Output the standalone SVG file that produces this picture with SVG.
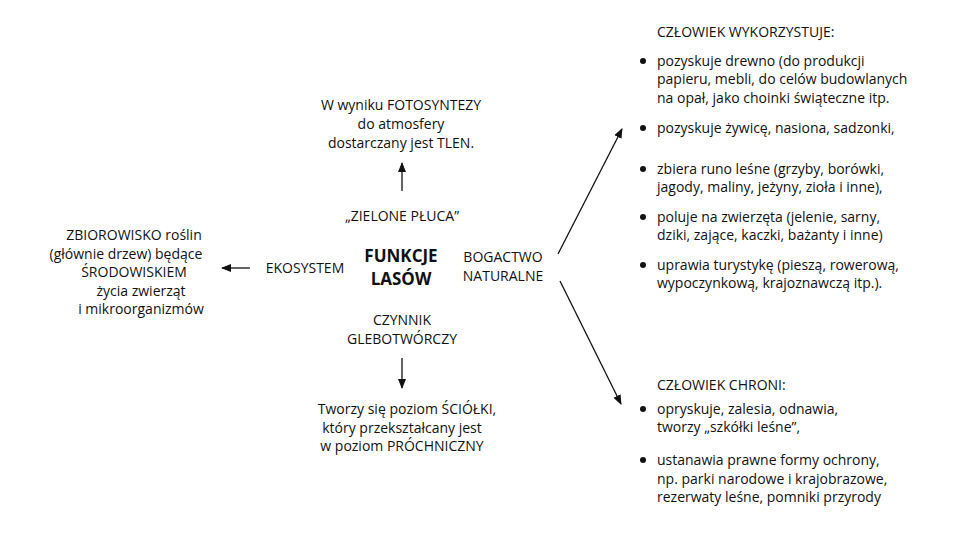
<svg xmlns="http://www.w3.org/2000/svg" width="960" height="540" viewBox="0 0 960 540">
<defs>
<style>
text{font-family:"Open Sans","Noto Sans",sans-serif;font-size:14px;fill:#111}
.c{text-anchor:middle}
.b{font-weight:bold;font-size:17px}
line{stroke:#111;stroke-width:1.3}
</style>
<marker id="a" markerWidth="10" markerHeight="8" refX="9" refY="4" orient="auto" markerUnits="userSpaceOnUse"><path d="M0,0 L10,4 L0,8 Z" fill="#111"/></marker>
</defs>
<rect width="960" height="540" fill="#fff"/>
<g id="center"><text class="c b" x="401" y="262">FUNKCJE</text><text class="c b" x="401" y="285">LASÓW</text></g>
<g id="zielone"><text class="c" x="402" y="221">„ZIELONE PŁUCA”</text></g>
<g id="tlen"><text class="c" x="401" y="110">W wyniku FOTOSYNTEZY</text><text class="c" x="401" y="129">do atmosfery</text><text class="c" x="401" y="148">dostarczany jest TLEN.</text></g>
<g id="ekosystem"><text class="c" x="305" y="273">EKOSYSTEM</text></g>
<g id="zbiorowisko"><text class="c" x="134" y="240">ZBIOROWISKO roślin</text><text class="c" x="126" y="259">(głównie drzew) będące</text><text class="c" x="134" y="277">ŚRODOWISKIEM</text><text class="c" x="141" y="296">życia zwierząt</text><text class="c" x="141" y="314">i mikroorganizmów</text></g>
<g id="bogactwo"><text class="c" x="503" y="262">BOGACTWO</text><text class="c" x="503" y="281">NATURALNE</text></g>
<g id="czynnik"><text class="c" x="402" y="325">CZYNNIK</text><text class="c" x="402" y="344">GLEBOTWÓRCZY</text></g>
<g id="sciolka"><text class="c" x="407" y="414">Tworzy się poziom ŚCIÓŁKI,</text><text class="c" x="402" y="433">który przekształcany jest</text><text class="c" x="402" y="451">w poziom PRÓCHNICZNY</text></g>
<g id="wykorzystuje">
<text x="657" y="37">CZŁOWIEK WYKORZYSTUJE:</text>
<g fill="#111"><circle cx="643" cy="61" r="3"/><circle cx="643" cy="128" r="3"/><circle cx="643" cy="169" r="3"/><circle cx="643" cy="217" r="3"/><circle cx="643" cy="265" r="3"/></g>
<text x="657" y="66">pozyskuje drewno (do produkcji</text><text x="657" y="84">papieru, mebli, do celów budowlanych</text><text x="657" y="103">na opał, jako choinki świąteczne itp.</text>
<text x="657" y="133">pozyskuje żywicę, nasiona, sadzonki,</text>
<text x="657" y="174">zbiera runo leśne (grzyby, borówki,</text><text x="657" y="192">jagody, maliny, jeżyny, zioła i inne),</text>
<text x="657" y="222">poluje na zwierzęta (jelenie, sarny,</text><text x="657" y="240">dziki, zające, kaczki, bażanty i inne)</text>
<text x="657" y="270">uprawia turystykę (pieszą, rowerową,</text><text x="657" y="288">wypoczynkową, krajoznawczą itp.).</text>
</g>
<g id="chroni">
<text x="657" y="390">CZŁOWIEK CHRONI:</text>
<g fill="#111"><circle cx="643" cy="409" r="3"/><circle cx="643" cy="460" r="3"/></g>
<text x="657" y="414">opryskuje, zalesia, odnawia,</text><text x="657" y="432">tworzy „szkółki leśne”,</text>
<text x="657" y="465">ustanawia prawne formy ochrony,</text><text x="657" y="484">np. parki narodowe i krajobrazowe,</text><text x="657" y="502">rezerwaty leśne, pomniki przyrody</text>
</g>
<g id="connectors" marker-end="url(#a)">
<line x1="402" y1="191" x2="402" y2="163"/>
<line x1="250" y1="268" x2="222" y2="268"/>
<line x1="402" y1="358" x2="402" y2="388"/>
<line x1="558" y1="254" x2="622" y2="129"/>
<line x1="560" y1="281" x2="621" y2="404"/>
</g>
</svg>
